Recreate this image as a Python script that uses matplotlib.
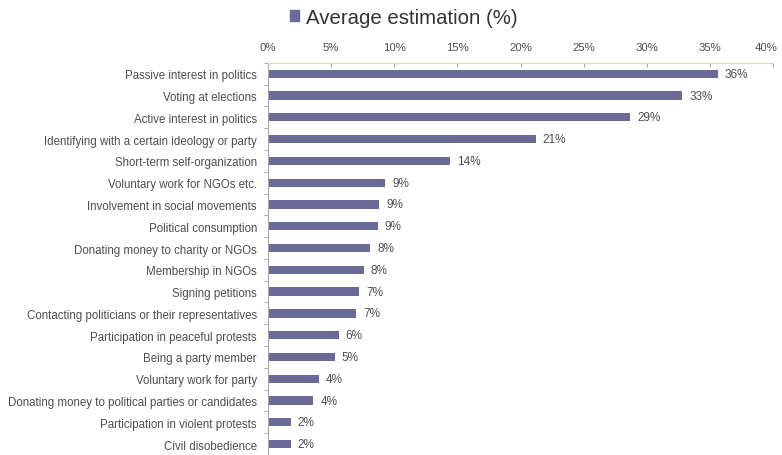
import numpy as np
import matplotlib.pyplot as plt
import matplotlib.transforms as mtransforms
from matplotlib.patches import Patch

plt.rcParams['font.family'] = ['Liberation Sans', 'DejaVu Sans']

activities = [
    'Passive interest in politics',
    'Voting at elections',
    'Active interest in politics',
    'Identifying with a certain ideology or party',
    'Short-term self-organization',
    'Voluntary work for NGOs etc.',
    'Involvement in social movements',
    'Political consumption',
    'Donating money to charity or NGOs',
    'Membership in NGOs',
    'Signing petitions',
    'Contacting politicians or their representatives',
    'Participation in peaceful protests',
    'Being a party member',
    'Voluntary work for party',
    'Donating money to political parties or candidates',
    'Participation in violent protests',
    'Civil disobedience',
]
estimation = [35.6, 32.8, 28.7, 21.2, 14.4, 9.3, 8.8, 8.7, 8.1, 7.6,
              7.2, 7.0, 5.6, 5.3, 4.0, 3.6, 1.8, 1.8]
xticks = [0, 5, 10, 15, 20, 25, 30, 35, 40]

bar_col = '#6b6b97'
txt_col = '#4d4d4d'

fig = plt.figure(figsize=(7.82, 4.56), dpi=100)
ax = fig.add_axes([0.3427, 0.0, 0.646, 0.86])

y = np.arange(len(activities))
ax.barh(y, estimation, height=0.38, color=bar_col)
for yi, v in zip(y, estimation):
    ax.text(v + 0.55, yi, '%d%%' % round(v), va='center', ha='left',
            fontsize=8.5, color=txt_col)

ax.set_ylim(len(activities) - 0.5, -0.5)
ax.set_xlim(0, 40)
ax.set_yticks(y)
ax.set_yticklabels(activities, fontsize=8.3, color=txt_col)
ax.set_yticks(np.arange(-0.5, len(activities), 1), minor=True)
ax.tick_params(axis='y', which='major', length=0, pad=8)
ax.tick_params(axis='y', which='minor', length=3, color='#999999', direction='out')

ax.xaxis.tick_top()
ax.set_xticks(xticks)
ax.set_xticklabels(['%d%%' % t for t in xticks], fontsize=8.2, color=txt_col)
ax.tick_params(axis='x', length=3, color='#aaaaaa', direction='in', pad=8)
# pull the last tick label in a little so it stays on the canvas
last = ax.get_xticklabels()[-1]
last.set_transform(last.get_transform() +
                   mtransforms.ScaledTranslation(-7 / 100, 0, fig.dpi_scale_trans))

for s in ['right', 'bottom']:
    ax.spines[s].set_visible(False)
ax.spines['top'].set_color('#d8d8c8')
ax.spines['left'].set_color('#aaaaaa')
ax.spines['top'].set_linewidth(0.8)
ax.spines['left'].set_linewidth(0.8)

fig.legend(handles=[Patch(color=bar_col, label='Average estimation (%)')],
           loc='center', bbox_to_anchor=(0.516, 0.96), frameon=False,
           fontsize=14.7, handlelength=0.45, handleheight=0.45,
           handletextpad=0.35, labelcolor='#333333')

fig.savefig('out.png', dpi=100)
